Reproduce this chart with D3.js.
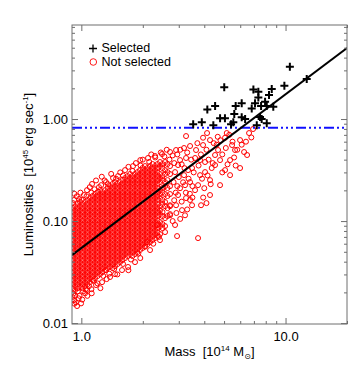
<!DOCTYPE html>
<html><head><meta charset="utf-8">
<script src="https://cdn.jsdelivr.net/npm/d3@7"></script>
<style>body{margin:0;background:#fff}svg{display:block}text{font-family:"Liberation Sans",Arial,Helvetica,sans-serif}</style>
</head><body><svg id="c" width="351" height="372"></svg>
<script>
// ---- data ----
const massDomain=[0.9,20];
const lumDomain=[0.0098,8.35];
const massMajorTicks=[1,10];
const massMajorLabels=["1.0","10.0"];
const massMinorTicks=[2,3,4,5,6,7,8,9,20];
const lumMajorTicks=[0.01,0.1,1];
const lumMajorLabels=["0.01","0.10","1.00"];
const lumMinorTicks=[0.02,0.03,0.04,0.05,0.06,0.07,0.08,0.09,0.2,0.3,0.4,0.5,0.6,0.7,0.8,0.9,2,3,4,5,6,7,8];
const fitMass=[0.9,20];
const fitLum=[0.0464,4.97];
const thresholdLum=0.82;
const selectedMass=[10.5,12.7,9.87,5.01,6.96,7.36,8.56,8.30,7.36,7.94,6.10,5.70,4.52,4.14,7.09,7.59,8.09,8.71,6.83,5.61,4.78,5.05,6.10,6.34,7.50,7.64,5.55,4.43,3.53,3.89,5.41,7.23,8.09];
const selectedLum=[3.26,2.47,2.12,2.05,1.95,1.85,1.97,1.72,1.63,1.48,1.43,1.34,1.34,1.24,1.43,1.34,1.34,1.32,1.27,1.12,1.02,1.02,1.04,1.00,1.05,1.00,0.93,0.87,0.89,0.93,0.89,0.87,0.91];
// dense core of not-selected clusters, read column by column: [mass, [luminosities]]
const notSelectedColumns=[
[0.906,[.134,.1225,.112,.102,.0935,.0854,.078,.0713,.0651,.0595,.0544,.0497,.0454,.0415,.0379,.0346,.0316,.0289,.0264,.0241,.022]],
[0.932,[.140,.128,.117,.107,.0978,.0893,.0816,.0746,.0681,.0622,.0569,.052,.0475,.0434,.0396,.0362,.0331,.0302,.0276,.0252,.0231,.0211]],
[0.958,[.147,.134,.1225,.112,.102,.0935,.0854,.078,.0713,.0651,.0595,.0544,.0497,.0454,.0415,.0379,.0346,.0316,.0289,.0264,.0241,.022]],
[0.985,[.154,.140,.128,.117,.107,.0978,.0893,.0816,.0746,.0681,.0622,.0569,.052,.0475,.0434,.0396,.0362,.0331,.0302,.0276,.0252,.0231]],
[1.014,[.147,.134,.1225,.112,.102,.0935,.0854,.078,.0713,.0651,.0595,.0544,.0497,.0454,.0415,.0379,.0346,.0316,.0289,.0264,.0241,.022]],
[1.043,[.154,.140,.128,.117,.107,.0978,.0893,.0816,.0746,.0681,.0622,.0569,.052,.0475,.0434,.0396,.0362,.0331,.0302,.0276,.0252,.0231]],
[1.072,[.161,.147,.134,.1225,.112,.102,.0935,.0854,.078,.0713,.0651,.0595,.0544,.0497,.0454,.0415,.0379,.0346,.0316,.0289,.0264,.0241]],
[1.103,[.168,.154,.140,.128,.117,.107,.0978,.0893,.0816,.0746,.0681,.0622,.0569,.052,.0475,.0434,.0396,.0362,.0331,.0302,.0276,.0252]],
[1.135,[.176,.161,.147,.134,.1225,.112,.102,.0935,.0854,.078,.0713,.0651,.0595,.0544,.0497,.0454,.0415,.0379,.0346,.0316,.0289,.0264]],
[1.167,[.184,.168,.154,.140,.128,.117,.107,.0978,.0893,.0816,.0746,.0681,.0622,.0569,.052,.0475,.0434,.0396,.0362,.0331,.0302,.0276]],
[1.200,[.192,.176,.161,.147,.134,.1225,.112,.102,.0935,.0854,.078,.0713,.0651,.0595,.0544,.0497,.0454,.0415,.0379,.0346,.0316,.0289]],
[1.235,[.201,.184,.168,.154,.140,.128,.117,.107,.0978,.0893,.0816,.0746,.0681,.0622,.0569,.052,.0475,.0434,.0396,.0362,.0331,.0302]],
[1.270,[.192,.176,.161,.147,.134,.1225,.112,.102,.0935,.0854,.078,.0713,.0651,.0595,.0544,.0497,.0454,.0415,.0379,.0346,.0316]],
[1.306,[.201,.184,.168,.154,.140,.128,.117,.107,.0978,.0893,.0816,.0746,.0681,.0622,.0569,.052,.0475,.0434,.0396,.0362,.0331]],
[1.344,[.211,.192,.176,.161,.147,.134,.1225,.112,.102,.0935,.0854,.078,.0713,.0651,.0595,.0544,.0497,.0454,.0415,.0379,.0346]],
[1.382,[.220,.201,.184,.168,.154,.140,.128,.117,.107,.0978,.0893,.0816,.0746,.0681,.0622,.0569,.052,.0475,.0434,.0396,.0362]],
[1.422,[.231,.211,.192,.176,.161,.147,.134,.1225,.112,.102,.0935,.0854,.078,.0713,.0651,.0595,.0544,.0497,.0454,.0415,.0379,.0346]],
[1.462,[.241,.220,.201,.184,.168,.154,.140,.128,.117,.107,.0978,.0893,.0816,.0746,.0681,.0622,.0569,.052,.0475,.0434,.0396,.0362]],
[1.504,[.231,.211,.192,.176,.161,.147,.134,.1225,.112,.102,.0935,.0854,.078,.0713,.0651,.0595,.0544,.0497,.0454,.0415,.0379]],
[1.547,[.241,.220,.201,.184,.168,.154,.140,.128,.117,.107,.0978,.0893,.0816,.0746,.0681,.0622,.0569,.052,.0475,.0434,.0396]],
[1.591,[.252,.231,.211,.192,.176,.161,.147,.134,.1225,.112,.102,.0935,.0854,.078,.0713,.0651,.0595,.0544,.0497,.0454,.0415]],
[1.637,[.264,.241,.220,.201,.184,.168,.154,.140,.128,.117,.107,.0978,.0893,.0816,.0746,.0681,.0622,.0569,.052,.0475,.0434]],
[1.684,[.276,.252,.231,.211,.192,.176,.161,.147,.134,.1225,.112,.102,.0935,.0854,.078,.0713,.0651,.0595,.0544,.0497,.0454]],
[1.732,[.289,.264,.241,.220,.201,.184,.168,.154,.140,.128,.117,.107,.0978,.0893,.0816,.0746,.0681,.0622,.0569,.052,.0475]],
[1.781,[.276,.252,.231,.211,.192,.176,.161,.147,.134,.1225,.112,.102,.0935,.0854,.078,.0713,.0651,.0595,.0544,.0497,.0454]],
[1.832,[.289,.264,.241,.220,.201,.184,.168,.154,.140,.128,.117,.107,.0978,.0893,.0816,.0746,.0681,.0622,.0569,.052,.0475]],
[1.885,[.302,.276,.252,.231,.211,.192,.176,.161,.147,.134,.1225,.112,.102,.0935,.0854,.078,.0713,.0651,.0595,.0544,.0497]],
[1.938,[.316,.289,.264,.241,.220,.201,.184,.168,.154,.140,.128,.117,.107,.0978,.0893,.0816,.0746,.0681,.0622,.0569,.052]],
[1.994,[.331,.302,.276,.252,.231,.211,.192,.176,.161,.147,.134,.1225,.112,.102,.0935,.0854,.078,.0713,.0651,.0595,.0544]],
[2.051,[.346,.316,.289,.264,.241,.220,.201,.184,.168,.154,.140,.128,.117,.107,.0978,.0893,.0816,.0746,.0681,.0622,.0569]],
[2.109,[.331,.302,.276,.252,.231,.211,.192,.176,.161,.147,.134,.1225,.112,.102,.0935,.0854,.078,.0713,.0651,.0595]],
[2.170,[.346,.316,.289,.264,.241,.220,.201,.184,.168,.154,.140,.128,.117,.107,.0978,.0893,.0816,.0746,.0681,.0622]],
[2.232,[.362,.331,.302,.276,.252,.231,.211,.192,.176,.161,.147,.134,.1225,.112,.102,.0935,.0854,.078,.0713,.0651]],
[2.296,[.346,.316,.289,.264,.241,.220,.201,.184,.168,.154,.140,.128,.117,.107,.0978,.0893,.0816,.0746,.0681]],
[2.361,[.362,.331,.302,.276,.252,.231,.211,.192,.176,.161,.147,.134,.1225,.112,.102,.0935,.0854,.078,.0713]],
[2.429,[.379,.346,.289,.264,.241,.201,.184,.168,.140,.128,.117,.0978,.0893,.0746]],
[2.498,[.362,.331,.276,.252,.211,.192,.161,.147,.1225,.112,.0935,.0854]],
[2.570,[.379,.316,.289,.241,.220,.184,.154,.140,.107,.0893]],
[2.643,[.362,.302,.252,.211,.176,.134,.112]],
[2.719,[.346,.289,.220,.184,.140,.117]]
];
// scattered not-selected clusters around the core: [mass, luminosity]
const notSelectedScatter=[
[0.921,0.161],[1.005,0.161],[1.066,0.201],[1.128,0.231],[1.259,0.272],[1.321,0.241],[1.430,0.264],[1.513,0.276],
[1.637,0.316],[1.791,0.346],[1.944,0.396],[2.121,0.415],[2.296,0.434],[2.484,0.454],[2.719,0.475],[2.910,0.497],
[3.184,0.520],[3.407,0.544],[3.646,0.497],[3.945,0.556],[4.268,0.622],[3.257,0.681],[3.945,0.656],[4.127,0.729],
[4.656,0.670],[5.057,0.656],[5.154,0.729],[6.629,0.729],[6.934,0.798],[5.989,0.622],[5.472,0.556],[4.672,0.497],
[6.266,0.475],[5.350,0.396],[6.482,0.444],[3.605,0.415],[4.035,0.379],[4.517,0.354],[3.044,0.396],[3.331,0.316],
[2.877,0.302],[3.814,0.282],[4.268,0.252],[3.220,0.225],[3.605,0.201],[2.976,0.180],[3.407,0.161],[2.719,0.143],
[3.113,0.128],[2.719,0.114],[3.857,0.143],[2.943,0.0713],[3.729,0.0681],[2.098,0.0622],[2.348,0.0915],[1.693,0.0355],
[1.462,0.0302],[1.321,0.0331],[1.124,0.0196],[1.043,0.0196],[1.066,0.0211],[0.953,0.0147],[0.997,0.0156],[0.921,0.0168],
[1.180,0.0236],[1.263,0.0252],[1.382,0.0283],[1.582,0.0331],[1.832,0.0396],[1.944,0.0434],[2.170,0.052],[2.428,0.0651],
[2.570,0.078],[2.877,0.0915],[3.220,0.114],[3.485,0.143],[4.268,0.180],[4.779,0.225],[5.350,0.282],[5.989,0.331],
[5.057,0.316],[4.517,0.444],[5.660,0.497],[2.976,0.354],[3.184,0.282],[3.407,0.241],[3.044,0.210],[2.830,0.241],
[3.485,0.331],[3.814,0.396],[3.257,0.415],[2.910,0.143],[3.257,0.168],[3.729,0.225],[4.035,0.302],[4.350,0.331],[4.779,0.396],
[0.950,0.175],[0.990,0.190],[1.030,0.180],[1.100,0.215],[1.180,0.250],[1.220,0.215],[1.400,0.290],[1.550,0.300],
[1.700,0.340],[1.850,0.370],[2.000,0.400],[2.300,0.420],[0.930,0.0185],[0.970,0.0175],[1.020,0.0205],[1.090,0.0230],
[1.150,0.0260],[1.280,0.0290],[1.450,0.0340],[1.600,0.0380],[1.750,0.0420],[1.900,0.0480],[2.050,0.0560],[2.250,0.0600],[2.400,0.0700],
[2.45,0.47],[2.55,0.43],[2.62,0.50],[2.70,0.40],[2.80,0.44],[2.85,0.37],[2.95,0.45],[3.05,0.50],[3.10,0.36],[3.20,0.33],
[3.30,0.47],[3.35,0.26],[3.45,0.40],[3.50,0.22],[3.55,0.30],[3.00,0.27],[2.95,0.22],[2.90,0.19],[3.10,0.155],[3.25,0.19],
[3.15,0.24],[3.40,0.185],[2.85,0.16],[2.92,0.12],[3.05,0.105],[2.80,0.10],[3.30,0.13],[3.50,0.17],[3.70,0.58],[3.75,0.35],
[3.85,0.45],[3.90,0.26],[4.00,0.21],[4.10,0.50],[4.15,0.28],[4.20,0.40],[4.30,0.23],[4.40,0.37],[4.45,0.58],[3.95,0.17],
[4.10,0.15],[4.6,0.56],[4.8,0.62],[4.9,0.45],[5.1,0.52],[5.2,0.36],[5.5,0.60],[5.6,0.42],[5.8,0.50],[6.1,0.56],
[6.4,0.60],[6.8,0.66],[5.3,0.70],[4.9,0.30],[5.7,0.35],
[0.915,0.0195],[0.94,0.0160],[0.96,0.0205],[0.98,0.0185],[1.01,0.0170],[1.05,0.0215],[1.07,0.0185],[1.12,0.0215],
[1.20,0.0245],[1.24,0.0220],[1.33,0.0270],[1.37,0.0305],[1.50,0.0300],[1.70,0.0330],[0.925,0.0155],[0.905,0.0180],
[0.91,0.150],[0.925,0.185],[0.975,0.165],[1.06,0.175],[1.12,0.19],[1.16,0.205],[1.25,0.225],[1.30,0.25],
[1.35,0.23],[1.48,0.26],[1.60,0.28],[1.78,0.31],[1.95,0.35],[2.15,0.38],[2.20,0.45]
];
const legendLabels=["Selected","Not selected"];

// ---- drawing ----
const svg=d3.select("#c");
svg.append("rect").attr("width",351).attr("height",372).attr("fill","#fff");
const L=72,R=347,T=25,B=324;
const x=d3.scaleLog().domain(massDomain).range([L,R]);
const y=d3.scaleLog().domain(lumDomain).range([B,T]);
const axisColor="#6e6e6e";

const clip=svg.append("defs").append("clipPath").attr("id","pc");
clip.append("rect").attr("x",L).attr("y",T).attr("width",R-L).attr("height",B-T);
const plot=svg.append("g").attr("clip-path","url(#pc)");

const red=[];
notSelectedColumns.forEach(([m,ls])=>ls.forEach(l=>red.push([m,l])));
notSelectedScatter.forEach(p=>red.push(p));
plot.append("g").selectAll("circle").data(red).join("circle")
  .attr("cx",d=>x(d[0])).attr("cy",d=>y(d[1])).attr("r",2.5)
  .attr("fill","none").attr("stroke","#ff0000").attr("stroke-width",1);

plot.append("line").attr("x1",L).attr("x2",R).attr("y1",y(thresholdLum)).attr("y2",y(thresholdLum))
  .attr("stroke","#1010ff").attr("stroke-width",2).attr("stroke-dasharray","10,3,2,3,2,3,2,3");

plot.append("path").datum(fitMass.map((m,i)=>[m,fitLum[i]]))
  .attr("d",d3.line().x(d=>x(d[0])).y(d=>y(d[1])))
  .attr("fill","none").attr("stroke","#000").attr("stroke-width",2);

const sel=selectedMass.map((m,i)=>[m,selectedLum[i]]);
plot.append("g").selectAll("path").data(sel).join("path")
  .attr("d",d=>{const cx=x(d[0]),cy=y(d[1]);return `M${cx-4},${cy}H${cx+4}M${cx},${cy-4}V${cy+4}`;})
  .attr("stroke","#000").attr("stroke-width",2).attr("fill","none");

// axes
function styleAxis(g){g.select(".domain").remove();g.selectAll("line").attr("stroke",axisColor);g.selectAll("text").attr("fill","#000").attr("font-size",13).attr("font-family","Liberation Sans, Arial, sans-serif");}
svg.append("g").attr("transform",`translate(0,${B})`)
  .call(d3.axisBottom(x).tickValues(massMajorTicks).tickSize(-6).tickPadding(8).tickFormat((d,i)=>massMajorLabels[i])).call(styleAxis);
svg.append("g").attr("transform",`translate(0,${B})`)
  .call(d3.axisBottom(x).tickValues(massMinorTicks).tickSize(-3).tickFormat("")).call(styleAxis);
svg.append("g").attr("transform",`translate(0,${T})`)
  .call(d3.axisTop(x).tickValues(massMajorTicks).tickSize(-6).tickFormat("")).call(styleAxis);
svg.append("g").attr("transform",`translate(0,${T})`)
  .call(d3.axisTop(x).tickValues(massMinorTicks).tickSize(-3).tickFormat("")).call(styleAxis);
svg.append("g").attr("transform",`translate(${L},0)`)
  .call(d3.axisLeft(y).tickValues(lumMajorTicks).tickSize(-6).tickPadding(4).tickFormat((d,i)=>lumMajorLabels[i])).call(styleAxis);
svg.append("g").attr("transform",`translate(${L},0)`)
  .call(d3.axisLeft(y).tickValues(lumMinorTicks).tickSize(-3).tickFormat("")).call(styleAxis);
svg.append("g").attr("transform",`translate(${R},0)`)
  .call(d3.axisRight(y).tickValues(lumMajorTicks).tickSize(-6).tickFormat("")).call(styleAxis);
svg.append("g").attr("transform",`translate(${R},0)`)
  .call(d3.axisRight(y).tickValues(lumMinorTicks).tickSize(-3).tickFormat("")).call(styleAxis);
svg.append("rect").attr("x",L).attr("y",T).attr("width",R-L).attr("height",B-T)
  .attr("fill","none").attr("stroke",axisColor).attr("stroke-width",1);

// titles
const xt=svg.append("text").attr("x",(L+R)/2).attr("y",356).attr("text-anchor","middle").attr("font-size",13).attr("fill","#000").attr("xml:space","preserve");
xt.append("tspan").text("Mass  [10");
xt.append("tspan").attr("font-size",8).attr("dy",-5).text("14");
xt.append("tspan").attr("dy",5).text(" M");
xt.append("tspan").attr("font-size",8).attr("dy",3).attr("font-family","DejaVu Sans").text("⊙");
xt.append("tspan").attr("dy",-3).text("]");

const yt=svg.append("text").attr("transform",`translate(33,${(T+B)/2}) rotate(-90)`).attr("text-anchor","middle").attr("font-size",13).attr("fill","#000").attr("xml:space","preserve");
yt.append("tspan").text("Luminosities  [10");
yt.append("tspan").attr("font-size",8).attr("dy",-5).text("45");
yt.append("tspan").attr("dy",5).text(" erg sec");
yt.append("tspan").attr("font-size",8).attr("dy",-5).text("-1");
yt.append("tspan").attr("dy",5).text("]");

// legend
const lg=svg.append("g");
lg.append("path").attr("d","M89,48.5H97M93,44.5V52.5").attr("stroke","#000").attr("stroke-width",1.3);
lg.append("text").attr("x",101.5).attr("y",52).attr("font-size",12.5).attr("fill","#000").text(legendLabels[0]);
lg.append("circle").attr("cx",93.3).attr("cy",62).attr("r",3.3).attr("fill","none").attr("stroke","#ff0000").attr("stroke-width",0.9);
lg.append("text").attr("x",101.5).attr("y",66.2).attr("font-size",12.5).attr("fill","#000").text(legendLabels[1]);
</script></body></html>
